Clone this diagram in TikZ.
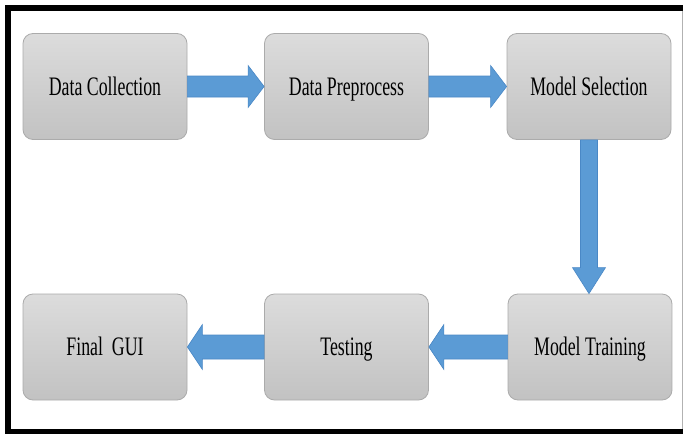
\documentclass[tikz,border=0pt]{standalone}
\usepackage{fontspec}
\setmainfont{Liberation Serif}
\usepackage{graphicx}
\usetikzlibrary{calc}
\definecolor{boxtop}{HTML}{DCDCDC}
\definecolor{boxbot}{HTML}{C2C2C2}
\definecolor{boxedge}{HTML}{ABABAB}
\definecolor{arrowblue}{HTML}{5B9BD5}
\definecolor{arrowedge}{HTML}{4A88C6}
\tikzset{
  stagebox/.style={rectangle, rounded corners=10pt, draw=boxedge, line width=0.8pt,
    top color=boxtop, bottom color=boxbot, minimum width=164pt, minimum height=106pt,
    inner sep=0pt, font=\fontsize{17.8}{20}\selectfont, text=black},
  fatarrow/.style={draw=arrowedge, fill=arrowblue, line width=0.6pt, line join=miter}
}
\newcommand{\lbl}[1]{\smash{\raisebox{-8.5pt}{\scalebox{1}[1.5]{#1}}}}
\begin{document}
\begin{tikzpicture}[x=1pt,y=-1pt]
\useasboundingbox (0,0) rectangle (683,434);
\fill[black] (5,5) rectangle (683,434);
\fill[white] (11,10.5) rectangle (681.5,428.5);
\draw[gray!60, line width=0.6pt] (681.8,10.5) -- (681.8,428.5);

\node[stagebox] (dc) at (105,86.5) {\lbl{Data Collection}};
\node[stagebox] (dp) at (346.5,86.5) {\lbl{Data Preprocess}};
\node[stagebox] (ms) at (589,86.5) {\lbl{Model Selection}};
\node[stagebox] (fg) at (105,347) {\lbl{Final\ \ GUI}};
\node[stagebox] (te) at (346.5,347) {\lbl{Testing}};
\node[stagebox] (mt) at (590,347) {\lbl{Model Training}};

% right-pointing arrows
\path[fatarrow] let \p1=(dc.east), \p2=(dp.west) in
  (\x1,\y1+10.5pt) -- (\x2-16pt,\y1+10.5pt) -- (\x2-16pt,\y1+21pt) -- (\x2,\y1)
  -- (\x2-16pt,\y1-21pt) -- (\x2-16pt,\y1-10.5pt) -- (\x1,\y1-10.5pt) -- cycle;
\path[fatarrow] let \p1=(dp.east), \p2=(ms.west) in
  (\x1,\y1+10.5pt) -- (\x2-16pt,\y1+10.5pt) -- (\x2-16pt,\y1+21pt) -- (\x2,\y1)
  -- (\x2-16pt,\y1-21pt) -- (\x2-16pt,\y1-10.5pt) -- (\x1,\y1-10.5pt) -- cycle;
% down arrow
\path[fatarrow] let \p1=(ms.south), \p2=(mt.north) in
  (\x1-8.5pt,\y1) -- (\x1-8.5pt,\y2+26pt) -- (\x1-16.5pt,\y2+26pt) -- (\x1,\y2)
  -- (\x1+16.5pt,\y2+26pt) -- (\x1+8.5pt,\y2+26pt) -- (\x1+8.5pt,\y1) -- cycle;
% left-pointing arrows
\path[fatarrow] let \p1=(mt.west), \p2=(te.east) in
  (\x1,\y1+12pt) -- (\x2+15pt,\y1+12pt) -- (\x2+15pt,\y1+22.5pt) -- (\x2,\y1)
  -- (\x2+15pt,\y1-22.5pt) -- (\x2+15pt,\y1-12pt) -- (\x1,\y1-12pt) -- cycle;
\path[fatarrow] let \p1=(te.west), \p2=(fg.east) in
  (\x1,\y1+12pt) -- (\x2+15pt,\y1+12pt) -- (\x2+15pt,\y1+22.5pt) -- (\x2,\y1)
  -- (\x2+15pt,\y1-22.5pt) -- (\x2+15pt,\y1-12pt) -- (\x1,\y1-12pt) -- cycle;
\end{tikzpicture}
\end{document}
